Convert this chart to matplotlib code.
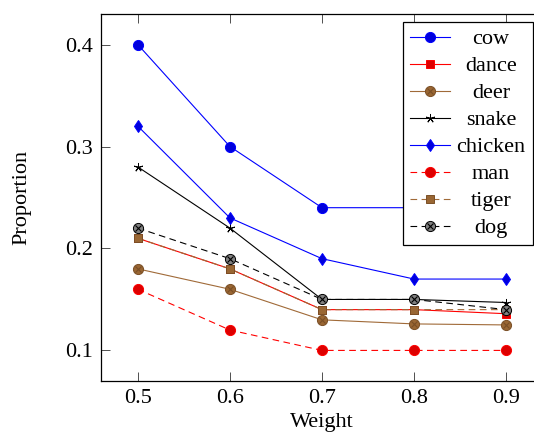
import matplotlib
matplotlib.use('Agg')
import matplotlib.pyplot as plt
from matplotlib.legend_handler import HandlerTuple

weights = [0.5, 0.6, 0.7, 0.8, 0.9]
cow = [0.40, 0.30, 0.24, 0.24, 0.24]
dance = [0.21, 0.18, 0.14, 0.14, 0.136]
deer = [0.18, 0.16, 0.13, 0.126, 0.125]
snake = [0.28, 0.22, 0.15, 0.15, 0.147]
chicken = [0.32, 0.23, 0.19, 0.17, 0.17]
man = [0.16, 0.12, 0.10, 0.10, 0.10]
tiger = [0.21, 0.18, 0.14, 0.14, 0.14]
dog = [0.22, 0.19, 0.15, 0.15, 0.14]
x_ticks = [0.5, 0.6, 0.7, 0.8, 0.9]
y_ticks = [0.1, 0.2, 0.3, 0.4]
x_label = "Weight"
y_label = "Proportion"

plt.rcParams['font.family'] = ['Liberation Serif', 'DejaVu Serif']
FS = 16

fig = plt.figure(figsize=(5.34, 4.41), dpi=100)
ax = fig.add_axes([101/534, 60/441, 442/534, 367/441])

BLUE = '#0000FF'; BLUEF = '#0000DD'
RED = '#FF0000'; REDF = '#DD0000'
BROWN = '#A06A38'; BROWNF = '#996633'
BLACK = '#000000'; GRAYF = '#808080'
LW = 0.8
DASH = (6, 4)

handles = []
labels = []

def add(y, label, color, marker, mfc, mec, ms, dashed=False, otimes=False):
    kw = dict(color=color, lw=LW, marker=marker, markersize=ms,
              markerfacecolor=mfc, markeredgecolor=mec, markeredgewidth=0.7)
    if dashed:
        kw['linestyle'] = (0, DASH)
    ln, = ax.plot(weights, y, **kw)
    if otimes:
        xm, = ax.plot(weights, y, linestyle='none', marker='x', markersize=ms*0.62,
                      markeredgecolor=mec, markeredgewidth=0.8)
        handles.append((ln, xm))
    else:
        handles.append(ln)
    labels.append(label)

add(cow, "cow", BLUE, 'o', BLUEF, BLUE, 7.3)
add(dance, "dance", RED, 's', REDF, RED, 6.3)
add(deer, "deer", BROWN, 'o', BROWNF, '#7A4F26', 7.3, otimes=True)
add(snake, "snake", BLACK, (5, 2, 0), BLACK, BLACK, 6.5)
add(chicken, "chicken", BLUE, 'd', BLUEF, BLUE, 6.3)
add(man, "man", RED, 'o', REDF, RED, 7.3, dashed=True)
add(tiger, "tiger", BROWN, 's', BROWNF, '#7A4F26', 6.3, dashed=True)
add(dog, "dog", BLACK, 'o', GRAYF, BLACK, 7.3, dashed=True, otimes=True)

ax.set_xlim(0.46, 0.94)
ax.set_ylim(0.07, 0.43)
ax.set_xticks(x_ticks)
ax.set_yticks(y_ticks)
ax.set_xticklabels([f"{v:.1f}" for v in x_ticks])
ax.set_yticklabels([f"{v:.1f}" for v in y_ticks])
ax.tick_params(direction='in', length=6.5, width=0.6, color='#333333',
               top=True, right=True, labelsize=FS, pad=6)
for s in ax.spines.values():
    s.set_linewidth(0.9)
ax.set_xlabel(x_label, fontsize=FS, labelpad=3)
ax.set_ylabel(y_label, fontsize=FS, labelpad=24)

leg = ax.legend(handles, labels, loc='upper right', bbox_to_anchor=(0.978, 0.978),
                borderaxespad=0, fontsize=FS, frameon=True, fancybox=False,
                framealpha=1, edgecolor='black', handlelength=1.8,
                handletextpad=0.35, labelspacing=0.29, borderpad=0.3,
                handler_map={tuple: HandlerTuple(ndivide=1)})
leg.get_frame().set_linewidth(0.9)
leg.set_zorder(10)

fig.canvas.draw()
r = fig.canvas.get_renderer()
texts = leg.get_texts()
widths = [t.get_window_extent(r).width for t in texts]
W = max(widths)
for t, w in zip(texts, widths):
    t.set_x((W - w) / 2 - 1)

fig.savefig('out.png', dpi=100)
